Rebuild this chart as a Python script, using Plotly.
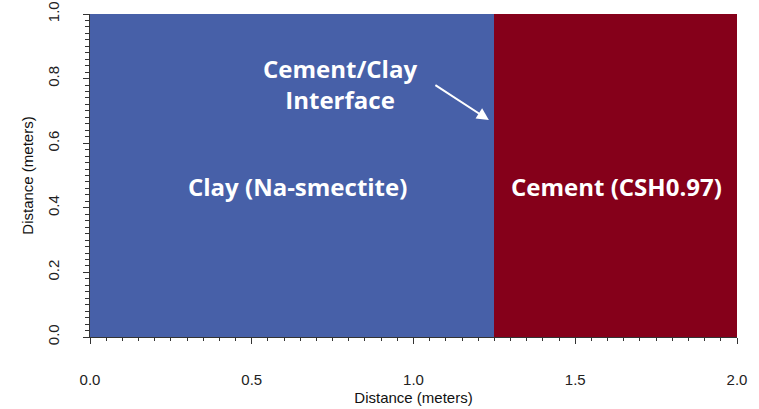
import plotly.graph_objects as go

# Data
regions = ["Clay (Na-smectite)", "Cement (CSH0.97)"]
x_start = [0.0, 1.25]
x_end = [1.25, 2.0]
y_top = [1.0, 1.0]
colors = ["#4760A8", "#85001A"]

label_x = [0.64, 1.626]
label_y = [0.467, 0.467]

interface_text = "Cement/Clay<br>Interface"
interface_text_xy = (0.773, 0.783)
arrow_head_xy = (1.233, 0.672)
arrow_tail_xy = (1.063, 0.783)

x_ticks = [0.0, 0.5, 1.0, 1.5, 2.0]
y_ticks = [0.0, 0.2, 0.4, 0.6, 0.8, 1.0]

fig = go.Figure()
for name, s, e, t, c in zip(regions, x_start, x_end, y_top, colors):
    fig.add_trace(go.Bar(
        x=[(s + e) / 2], y=[t], width=[e - s], base=[0],
        marker=dict(color=c, line=dict(width=0)), name=name, showlegend=False,
        hoverinfo="name",
    ))

label_font = dict(family="Open Sans, sans-serif", size=24, color="white", weight=700)
for name, lx, ly in zip(regions, label_x, label_y):
    fig.add_annotation(x=lx, y=ly, text=name, showarrow=False,
                       font=label_font, xanchor="center", yanchor="middle")

fig.add_annotation(x=interface_text_xy[0], y=interface_text_xy[1],
                   text="<span style='line-height:1.4'>%s</span>" % interface_text,
                   showarrow=False, font=label_font, xanchor="center", yanchor="middle")
fig.add_annotation(x=arrow_head_xy[0], y=arrow_head_xy[1], ax=arrow_tail_xy[0], ay=arrow_tail_xy[1],
                   axref="x", ayref="y", xref="x", yref="y", text="", showarrow=True,
                   arrowhead=2, arrowsize=1.2, arrowwidth=2, arrowcolor="white")

tick_font = dict(family="Arial, Liberation Sans, sans-serif", size=15, color="#222222")
title_font = dict(family="Arial, Liberation Sans, sans-serif", size=15, color="#111111")
fig.update_layout(
    width=759, height=409,
    margin=dict(l=90, r=22, t=14, b=72),
    paper_bgcolor="white", plot_bgcolor="white",
    barmode="overlay", bargap=0,
    font=tick_font,
    xaxis=dict(range=[0, 2.0], tickvals=x_ticks, ticktext=["%.1f" % v for v in x_ticks],
               ticks="outside", ticklen=6, tickcolor="#333", showline=True, linecolor="#333",
               linewidth=1, showgrid=False, zeroline=False, ticklabelstandoff=23,
               automargin=False, tickfont=tick_font, ticklabeloverflow="allow",
               minor=dict(ticks="outside", ticklen=3, dtick=0.05, tickcolor="#333"),
               title=dict(text="Distance (meters)", standoff=5, font=title_font)),
    yaxis=dict(range=[0, 1.0], tickvals=y_ticks, ticktext=["%.1f" % v for v in y_ticks],
               ticks="outside", ticklen=6, tickcolor="#333", showline=True, linecolor="#333",
               linewidth=1, showgrid=False, zeroline=False, tickangle=-90, ticklabelstandoff=18,
               automargin=False, tickfont=tick_font, ticklabeloverflow="allow",
               minor=dict(ticks="outside", ticklen=4, dtick=0.02, tickcolor="#333"),
               title=dict(text="Distance (meters)", standoff=7, font=title_font)),
)

fig.write_html("out.html", config={"displayModeBar": False},
               post_script="document.body.style.margin='0';document.body.style.overflow='hidden';")
